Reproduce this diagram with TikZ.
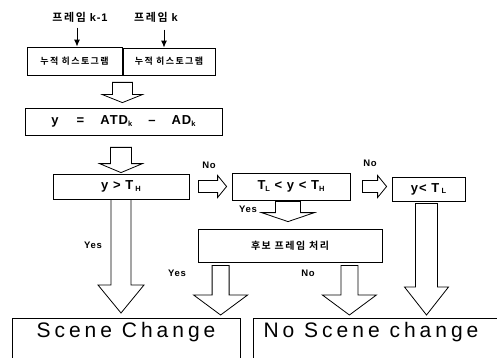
\documentclass[tikz,border=0pt]{standalone}
\usepackage{fontspec}
\setmainfont{Liberation Sans}
\newfontfamily\kr[LetterSpace=15,BoldFont={Noto Sans CJK KR Bold}]{Noto Sans CJK KR}
\newfontfamily\wide[LetterSpace=19]{Liberation Sans}
\newfontfamily\spaced[LetterSpace=8]{Liberation Sans}
\usetikzlibrary{arrows.meta,calc}

% hollow block arrows: from, to, shaft half width, head half width, head length
\newcommand{\fatdown}[5]{\draw[fat] let \p1=#1, \p2=#2 in (\x1-#3,\y1) -- (\x1-#3,\y2+#5) -- (\x1-#4,\y2+#5) -- (\x1,\y2) -- (\x1+#4,\y2+#5) -- (\x1+#3,\y2+#5) -- (\x1+#3,\y1) -- cycle;}
\newcommand{\fatright}[5]{\draw[fat] let \p1=#1, \p2=#2 in (\x1,\y1+#3) -- (\x2-#5,\y1+#3) -- (\x2-#5,\y1+#4) -- (\x2,\y1) -- (\x2-#5,\y1-#4) -- (\x2-#5,\y1-#3) -- (\x1,\y1-#3) -- cycle;}
\newcommand{\sub}[1]{\raisebox{-1.5pt}{\fontsize{7.5}{8}\selectfont #1}}

\begin{document}
\begin{tikzpicture}[x=1pt, y=-1pt, box/.style={draw, line width=0.8pt, inner sep=0pt}, fat/.style={draw, line width=0.8pt, line join=miter}, lbl/.style={font=\spaced\bfseries\fontsize{9.5}{11}\selectfont, inner sep=1pt}, btxt/.style={font=\spaced\bfseries\fontsize{13}{15}\selectfont}, arr/.style={-{Latex[length=7pt,width=6pt]}, line width=1pt}]
\clip (0,0) rectangle (497,358);
\node[font=\spaced\bfseries\fontsize{11}{13}\selectfont] (lab1) at (80,17) {{\kr 프레임} k-1};
\node[font=\spaced\bfseries\fontsize{11}{13}\selectfont] (lab2) at (156,17) {{\kr 프레임} k};
\node[box, minimum width=95, minimum height=28, font=\bfseries\fontsize{9}{10}\selectfont] (hist1) at (74.5,61) {\kr 누적 히스토그램};
\node[box, minimum width=92, minimum height=27, font=\bfseries\fontsize{9}{10}\selectfont] (hist2) at (169,61.5) {\kr 누적 히스토그램};
\node[box, btxt, minimum width=197, minimum height=27] (formula) at (123.5,121.5) {y\hspace{18pt}=\hspace{16pt}ATD\sub{k}\hspace{16pt}\textendash\hspace{16pt}AD\sub{k}};
\node[box, btxt, minimum width=136, minimum height=25] (yth) at (121,186.5) {y > T\,\sub{H}};
\node[box, btxt, minimum width=118, minimum height=27] (mid) at (291,186.5) {T\sub{L} < y < T\sub{H}};
\node[box, btxt, minimum width=73, minimum height=24] (ytl) at (428.5,189) {y< T\,\sub{L}};
\node[box, minimum width=184, minimum height=33, font=\bfseries\fontsize{10}{12}\selectfont] (cand) at (290,245.5) {\kr 후보 프레임 처리};
\node[box, anchor=north, minimum width=228, inner ysep=4pt, text depth=30pt, font=\wide\fontsize{21}{24}\selectfont] (scene) at (126,318) {Scene Change};
\node[box, anchor=north, minimum width=258, inner ysep=4pt, text depth=30pt, font=\wide\fontsize{21}{24}\selectfont] (noscene) at (382,318) {No Scene change\hspace{22pt}\null};
% thin arrows into the histograms
\draw[arr] ([xshift=-3pt,yshift=-2pt]lab1.south) -- ([xshift=-3pt]lab1.south |- hist1.north);
\draw[arr] ([xshift=8pt,yshift=-4pt]lab2.south) -- ([xshift=8pt]lab2.south |- hist2.north);
% hollow arrows
\fatdown{($(hist1.south east)+(0,7)$)}{($(formula.north)+(0,-5)$)}{10pt}{20pt}{8pt}
\fatdown{($(yth.north |- formula.south)+(0,12)$)}{($(yth.north)+(0,-1)$)}{10.5pt}{21.5pt}{9pt}
\fatright{($(yth.east)+(9,0)$)}{($(mid.west)+(-5,0)$)}{6pt}{11pt}{9pt}
\fatright{($(mid.east)+(12,0)$)}{($(ytl.west)+(-5,-2)$)}{6pt}{11pt}{9pt}
\fatdown{($(mid.south)+(-3,1)$)}{($(mid.south |- cand.north)+(-3,-7)$)}{12.5pt}{26.5pt}{9pt}
\fatdown{(yth.south)}{($(yth.south |- scene.north)+(0,-5)$)}{10pt}{23pt}{28pt}
\fatdown{($(cand.south west)+(23,3)$)}{($(cand.south west |- scene.north)+(23,-3)$)}{8.5pt}{27pt}{20pt}
\fatdown{($(cand.south east)+(-33,3)$)}{($(cand.south east |- noscene.north)+(-33,-3)$)}{8.5pt}{27pt}{20pt}
\fatdown{($(ytl.south)+(-2,2)$)}{($(ytl.south |- noscene.north)+(-2,-3)$)}{11pt}{22pt}{28pt}
% branch labels
\node[lbl] (no1) at (209,165) {No};
\node[lbl] (no2) at (370,163) {No};
\node[lbl] (yes1) at (248,209) {Yes};
\node[lbl] (yes2) at (93,245) {Yes};
\node[lbl] (yes3) at (177,273) {Yes};
\node[lbl] (no3) at (308,273) {No};
\end{tikzpicture}
\end{document}
